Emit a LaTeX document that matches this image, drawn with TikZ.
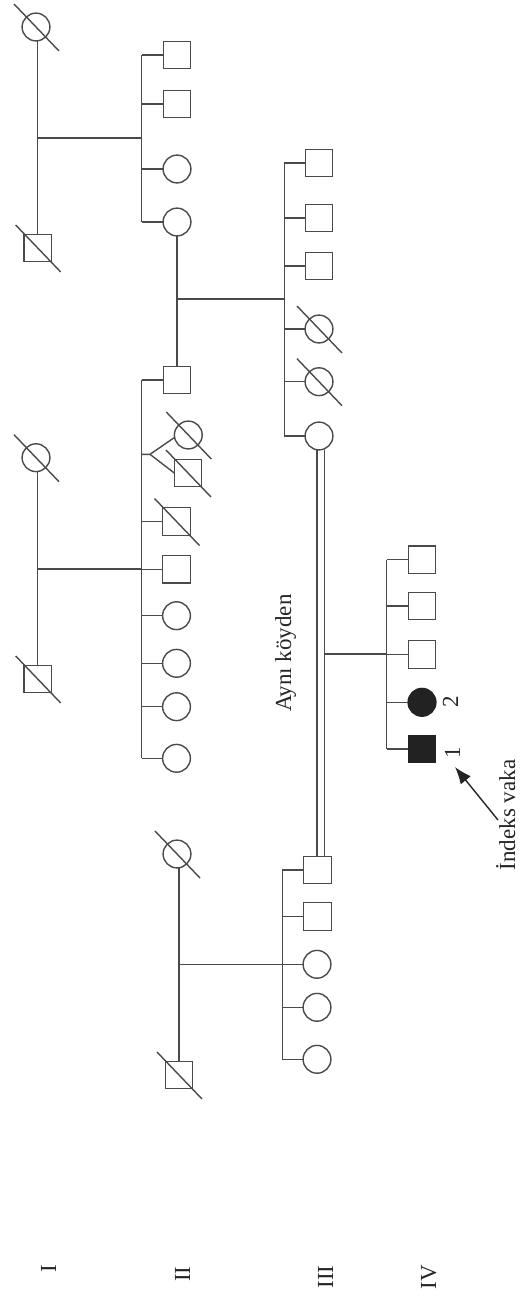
\documentclass[tikz,border=0pt]{standalone}
\usepackage{fontspec}
\setmainfont{Liberation Serif}
\usetikzlibrary{arrows.meta}
\definecolor{lc}{HTML}{4A4A4A}
\definecolor{fc}{HTML}{222222}
\definecolor{tc}{HTML}{262626}
\tikzset{
  ln/.style={draw=lc, line width=1.4pt},
  male/.style={rectangle, draw=lc, line width=1.4pt, minimum size=27.5pt, inner sep=0pt, outer sep=0pt},
  female/.style={circle, draw=lc, line width=1.4pt, minimum size=27.8pt, inner sep=0pt, outer sep=0pt},
  aff/.style={fill=fc, draw=fc},
  lbl/.style={font=\fontsize{23}{27}\selectfont, text=tc, rotate=90, anchor=base, inner sep=0pt},
}
\newcommand{\deceased}[1]{\draw[ln] ([shift={(-22,-23)}]#1.center) -- ([shift={(23,24)}]#1.center);}
\begin{document}
\begin{tikzpicture}[x=1pt,y=-1pt]
\useasboundingbox[fill=white] (0,0) rectangle (520,1299);

% ---------- Family A (generation I, right couple) ----------
\node[female] (fA) at (36,27) {};
\node[male] (mA) at (37.7,248) {};
\coordinate (jA) at (37.7,138);
\coordinate (sAt) at (141.7,55);
\coordinate (sAb) at (141.7,222);
\node[male] (a1) at (177,55) {};
\node[male] (a2) at (177,104) {};
\node[female] (a3) at (177,169) {};
\node[female] (a4) at (177,222) {};
\draw[ln] (fA.south -| mA.north) -- (mA.north);
\draw[ln] (jA) -- (jA -| sAt);
\draw[ln] (sAt) -- (sAb);
\foreach \n in {a1,a2,a3,a4} \draw[ln] (\n.west) -- (\n.west -| sAt);
\deceased{fA} \deceased{mA}

% ---------- Family B (generation I, middle couple) ----------
\node[female] (fB) at (36,457.7) {};
\node[male] (mB) at (37.7,679) {};
\coordinate (jB) at (37.7,569);
\coordinate (sBt) at (141.7,380);
\coordinate (sBb) at (141.7,758.3);
\node[male] (b1) at (177,380) {};
\node[female] (b2) at (188.3,435) {};
\node[male] (b3) at (188,473) {};
\node[male] (b4) at (176.5,521.5) {};
\node[male] (b5) at (176.5,569.3) {};
\node[female] (b6) at (176.5,615.7) {};
\node[female] (b7) at (176.5,663.3) {};
\node[female] (b8) at (176.5,706.7) {};
\node[female] (b9) at (176.5,758.3) {};
\coordinate (tw) at (150,454.3);
\draw[ln] (fB.south -| mB.north) -- (mB.north);
\draw[ln] (jB) -- (jB -| sBt);
\draw[ln] (sBt) -- (sBb);
\foreach \n in {b1,b4,b5,b6,b7,b8,b9} \draw[ln] (\n.west) -- (\n.west -| sBt);
\draw[ln] (tw -| sBt) -- (tw) -- (b2.190);
\draw[ln] (tw) -- (b3.west);
\deceased{fB} \deceased{mB} \deceased{b2} \deceased{b3} \deceased{b4}

% ---------- marriage a4 x b1 ----------
\draw[ln] (a4.south) -- (b1.north);
\coordinate (mAB) at (177,299);
\coordinate (sCt) at (284.3,163);
\coordinate (sCb) at (284.3,436);
\draw[ln] (mAB) -- (mAB -| sCt);

% ---------- Family C (generation III) ----------
\node[male] (c1) at (319,163) {};
\node[male] (c2) at (319,218) {};
\node[male] (c3) at (319,266) {};
\node[female] (c4) at (319,329) {};
\node[female] (c5) at (319,381.7) {};
\node[female] (c6) at (319,436) {};
\draw[ln] (sCt) -- (sCb);
\foreach \n in {c1,c2,c3,c4,c5,c6} \draw[ln] (\n.west) -- (\n.west -| sCt);
\deceased{c4} \deceased{c5}

% ---------- Family D (generation I, left couple) ----------
\node[female] (fD) at (177,854) {};
\node[male] (mD) at (179,1075) {};
\coordinate (jD) at (179,964.3);
\coordinate (sDt) at (282.3,870);
\coordinate (sDb) at (282.3,1059.3);
\node[male] (d1) at (317.5,870) {};
\node[male] (d2) at (317.5,916.5) {};
\node[female] (d3) at (317,964.3) {};
\node[female] (d4) at (317,1007.3) {};
\node[female] (d5) at (317,1059.3) {};
\draw[ln] (fD.south -| mD.north) -- (mD.north);
\draw[ln] (jD) -- (jD -| sDt);
\draw[ln] (sDt) -- (sDb);
\foreach \n in {d1,d2,d3,d4,d5} \draw[ln] (\n.west) -- (\n.west -| sDt);
\deceased{fD} \deceased{mD}

% ---------- consanguineous marriage c6 x d1 ----------
\draw[ln] ([xshift=-2pt]c6.south) -- ([xshift=-2pt]c6.south |- d1.north);
\draw[ln] ([xshift=5.5pt]c6.south) -- ([xshift=5.5pt]c6.south |- d1.north);
\coordinate (mCD) at (324.5,654);
\coordinate (sEt) at (386.7,559.7);
\coordinate (sEb) at (386.7,749);
\draw[ln] (mCD) -- (mCD -| sEt);

% ---------- Family E (generation IV) ----------
\node[male] (e1) at (422,559.7) {};
\node[male] (e2) at (422,606) {};
\node[male] (e3) at (422,654.5) {};
\node[female, aff] (e4) at (422,702.3) {};
\node[male, aff] (e5) at (422,749) {};
\draw[ln] (sEt) -- (sEb);
\foreach \n in {e1,e2,e3,e4,e5} \draw[ln] (\n.west) -- (\n.west -| sEt);

% ---------- labels ----------
\node[lbl] (tAk) at (291,653) {Aynı köyden};
\node[lbl] (t2) at (458,702) {2};
\node[lbl] (t1) at (460,753) {1};
\node[lbl] (tIV) at (515,815) {İndeks vaka};
\coordinate (arT) at (498,820);
\coordinate (arH) at (455,767);
\draw[draw=tc, line width=1.4pt, -{Latex[length=17pt,width=13pt]}] (arT) -- (arH);

\node[lbl] (gI) at (56,1269) {I};
\node[lbl] (gII) at (190,1274) {II};
\node[lbl] (gIII) at (333,1277) {III};
\node[lbl] (gIV) at (436,1277) {IV};
\end{tikzpicture}
\end{document}
